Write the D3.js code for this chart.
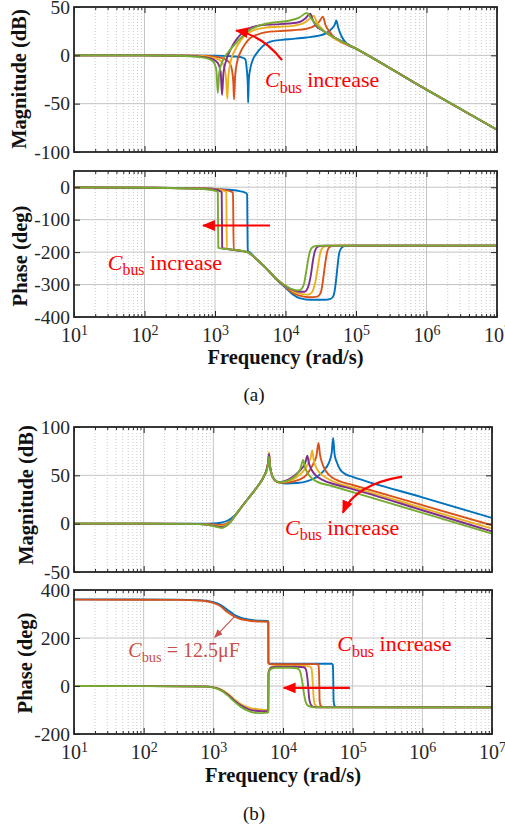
<!DOCTYPE html>
<html>
<head>
<meta charset="utf-8">
<script src="https://cdn.jsdelivr.net/npm/d3@7"></script>
<style>
  body { margin: 0; background: #fff; }
  svg { display: block; font-family: "Liberation Serif", "Times New Roman", serif; }
</style>
</head>
<body>
<svg width="505" height="830"></svg>
<script>
// frequencies are given as log10(rad/s); values in dB or deg
const freqDecades = [1, 2, 3, 4, 5, 6, 7];
const seriesColors = ['#0072BD', '#D95319', '#EDB120', '#7E2F8E', '#77AC30'];

const aMagTicks = [50, 0, -50, -100];
const aPhaseTicks = [0, -100, -200, -300, -400];
const bMagTicks = [100, 50, 0, -50];
const bPhaseTicks = [400, 200, 0, -200];

// (a) magnitude
const aMagBlue = [[1,0],[2,0],[3,-0.3],[3.2,-0.8],[3.3,-1.3],[3.38,-2.2],[3.43,-4],[3.45,-14],[3.465,-30],[3.47,-49],[3.48,-25],[3.5,-14],[3.54,-4],[3.59,2],[3.65,7.5],[3.72,12],[3.8,14.5],[3.95,16],[4.1,17],[4.3,18.5],[4.45,20],[4.58,23],[4.65,27],[4.70,32],[4.72,36],[4.75,28],[4.80,19],[4.87,12],[5,7],[6,-35.5],[7,-77]];
const aMagOrange = [[1,0],[2,0],[2.8,-0.5],[3.0,-1.5],[3.12,-3.5],[3.2,-7],[3.24,-15],[3.26,-28],[3.27,-45.5],[3.285,-22],[3.31,-8],[3.36,3],[3.43,12],[3.5,18],[3.6,21.5],[3.73,24],[3.9,25],[4.1,26],[4.3,27.5],[4.42,31],[4.48,35],[4.53,40],[4.57,31],[4.63,24],[4.68,19.3],[5,7],[6,-35.5],[7,-77]];
const aMagYellow = [[1,0],[2,0],[2.7,-0.5],[2.9,-1.5],[3.02,-3.5],[3.1,-7],[3.14,-15],[3.16,-28],[3.175,-45],[3.19,-22],[3.22,-7],[3.28,5],[3.36,15],[3.45,22],[3.55,26],[3.7,28.5],[3.9,29.5],[4.1,30.5],[4.25,33],[4.33,37],[4.40,41],[4.44,35],[4.48,30.5],[4.55,25],[5,7],[6,-35.5],[7,-77]];
const aMagPurple = [[1,0],[2,0],[2.6,-0.5],[2.85,-1.8],[2.97,-4],[3.04,-8],[3.08,-17],[3.10,-41],[3.12,-18],[3.16,-5],[3.22,6],[3.3,16],[3.4,24],[3.5,28.5],[3.65,31],[3.85,32],[4.05,33],[4.2,34.5],[4.28,38],[4.35,43],[4.39,36],[4.44,30],[4.52,26],[5,7],[6,-35.5],[7,-77]];
const aMagGreen = [[1,0],[2,0],[2.5,-0.5],[2.75,-1.5],[2.9,-3.5],[2.98,-7],[3.02,-16],[3.04,-39],[3.06,-18],[3.1,-7],[3.19,3.5],[3.31,13.5],[3.45,24],[3.59,29.8],[3.83,34],[4.06,36],[4.2,39.3],[4.3,43.8],[4.37,37.7],[4.47,29],[4.58,23.4],[5,7],[6,-35.5],[7,-77]];

// (a) phase
const aPhaseBlue = [[1,-0.5],[2,-1.5],[2.6,-3],[3,-5],[3.2,-8],[3.35,-12],[3.44,-18],[3.455,-22],[3.465,-196],[3.5,-202],[3.59,-222],[3.73,-251],[3.88,-286],[4.02,-314],[4.1,-330],[4.2,-342],[4.35,-347],[4.55,-347],[4.64,-344],[4.68,-335],[4.71,-300],[4.735,-250],[4.76,-205],[4.79,-188],[4.84,-181],[4.95,-180],[7,-180]];
const aPhaseOrange = [[1,-0.5],[2,-1.5],[2.6,-3],[3,-5],[3.15,-9],[3.23,-14],[3.255,-18],[3.265,-192],[3.35,-195],[3.46,-200],[3.59,-222],[3.73,-251],[3.88,-285],[4.02,-311],[4.1,-325],[4.2,-334],[4.35,-339],[4.45,-337],[4.5,-325],[4.53,-290],[4.56,-240],[4.59,-200],[4.62,-185],[4.67,-181],[4.8,-180],[7,-180]];
const aPhaseYellow = [[1,-0.5],[2,-1.5],[2.6,-3],[3,-6],[3.12,-11],[3.16,-16],[3.168,-190],[3.25,-193],[3.35,-196],[3.46,-200],[3.59,-222],[3.73,-251],[3.88,-284],[4.02,-308],[4.1,-320],[4.2,-328],[4.32,-331],[4.38,-322],[4.42,-295],[4.46,-245],[4.49,-205],[4.53,-186],[4.6,-180],[7,-180]];
const aPhasePurple = [[1,-0.5],[2,-1.5],[2.6,-3],[3,-7],[3.07,-12],[3.095,-16],[3.102,-188],[3.2,-191],[3.35,-196],[3.46,-200],[3.59,-222],[3.73,-251],[3.88,-284],[4.02,-307],[4.1,-316],[4.2,-322],[4.27,-322],[4.32,-308],[4.36,-270],[4.39,-225],[4.42,-195],[4.46,-183],[4.55,-180],[7,-180]];
const aPhaseGreen = [[1,-0.5],[2,-1.5],[2.5,-3],[2.9,-7],[3.02,-12],[3.04,-16],[3.047,-187],[3.15,-190],[3.3,-194],[3.46,-200],[3.59,-222],[3.73,-251],[3.88,-284],[4.02,-306],[4.1,-315],[4.18,-318],[4.22,-315],[4.26,-300],[4.29,-265],[4.32,-225],[4.35,-196],[4.39,-184],[4.47,-180],[7,-180]];

// (b) magnitude
const bMagBlue = [[1,0],[2,0],[2.8,0],[3.0,0.3],[3.1,1],[3.2,3],[3.3,8],[3.43,19.6],[3.55,30.5],[3.65,40],[3.72,48],[3.77,57],[3.79,64],[3.80,71],[3.81,62],[3.83,53],[3.87,46],[3.95,42.5],[4.05,41.5],[4.2,42],[4.35,44],[4.45,47],[4.55,52],[4.62,58],[4.67,65],[4.70,74],[4.72,88.6],[4.74,72],[4.77,64],[4.82,56],[4.9,51],[5,48.5],[6,27.2],[7,5.9]];
const bMagOrange = [[1,0],[2,0],[2.8,-0.2],[3.0,-0.8],[3.1,-1.2],[3.17,-0.5],[3.25,3],[3.32,9],[3.43,19.6],[3.55,30.5],[3.65,40],[3.72,48],[3.77,57],[3.79,65],[3.80,72],[3.81,62],[3.83,53],[3.87,46],[3.95,42.5],[4.05,42.5],[4.15,43.7],[4.25,46],[4.33,50],[4.39,56],[4.44,63],[4.48,70],[4.51,83.5],[4.53,72],[4.56,63],[4.62,54],[4.7,48],[4.82,43.7],[5,40],[6,19.1],[7,-1.7]];
const bMagYellow = [[1,0],[2,0],[2.8,-0.3],[3.0,-1.5],[3.1,-2.5],[3.16,-2],[3.25,2.5],[3.32,9],[3.43,19.6],[3.55,30.5],[3.65,40],[3.72,48],[3.77,58],[3.79,66],[3.80,74],[3.81,63],[3.83,53],[3.87,46],[3.95,42.5],[4.05,43.5],[4.15,46],[4.23,50],[4.3,55],[4.36,62],[4.40,69],[4.42,75.8],[4.44,66],[4.47,59],[4.51,54],[4.63,47],[4.8,41.4],[5,37.5],[6,16.2],[7,-5.2]];
const bMagPurple = [[1,0],[2,0],[2.8,-0.4],[3.0,-2],[3.1,-3.5],[3.16,-3],[3.25,2.2],[3.32,9],[3.43,19.6],[3.55,30.5],[3.65,40],[3.72,48],[3.77,57],[3.79,65],[3.80,72],[3.81,62],[3.83,53],[3.87,46],[3.93,43],[4.02,44],[4.12,47.5],[4.2,52],[4.27,57],[4.32,63],[4.35,70.3],[4.37,63],[4.41,55.8],[4.47,50],[4.56,45.5],[4.75,40.5],[5,35.8],[6,13.9],[7,-8]];
const bMagGreen = [[1,0],[2,0],[2.8,-0.5],[3.0,-2.5],[3.12,-4.5],[3.18,-2.5],[3.25,2],[3.32,9],[3.43,19.6],[3.55,30.5],[3.65,40],[3.72,48],[3.77,56],[3.79,63],[3.80,69],[3.81,61],[3.83,53],[3.87,46],[3.93,43],[4.05,44],[4.12,46.5],[4.2,51],[4.25,57],[4.29,66],[4.31,60],[4.34,54],[4.4,48],[4.48,43.7],[4.7,39],[5,32.6],[6,11.2],[7,-10.3]];

// (b) phase
const bPhaseBlue = [[1,361],[2.5,360],[2.8,357],[2.9,355],[3.0,349],[3.1,338],[3.2,318],[3.3,297],[3.4,284],[3.5,277],[3.6,273],[3.78,271],[3.789,268],[3.791,97],[3.82,93],[4.7,93],[4.715,88],[4.722,20],[4.726,-60],[4.74,-83],[4.78,-88],[7,-89]];
const bPhaseOrange = [[1,360],[2.5,359],[2.8,356],[2.9,353],[3.0,346],[3.1,333],[3.2,308],[3.3,290],[3.4,278],[3.5,273],[3.6,270],[3.78,268],[3.789,266],[3.791,95],[3.82,91],[4.49,91],[4.51,87],[4.52,20],[4.525,-60],[4.54,-82],[4.58,-88],[7,-89]];
const bPhaseYellow = [[1,0],[2,-0.5],[2.9,-2],[3.0,-5],[3.1,-13],[3.2,-30],[3.3,-55],[3.4,-76],[3.5,-89],[3.6,-96],[3.7,-99],[3.788,-100],[3.792,55],[3.81,73],[3.84,81],[3.9,84],[4.3,84],[4.38,82],[4.41,72],[4.425,20],[4.44,-50],[4.46,-78],[4.5,-87],[4.56,-89],[7,-89]];
const bPhasePurple = [[1,0],[2,-0.5],[2.9,-2],[3.0,-6],[3.1,-15],[3.2,-34],[3.3,-60],[3.4,-82],[3.5,-96],[3.6,-103],[3.7,-105],[3.788,-104],[3.792,52],[3.81,70],[3.84,77],[3.9,80],[4.2,80],[4.3,78],[4.33,68],[4.355,20],[4.375,-50],[4.4,-78],[4.44,-87],[4.5,-89],[7,-89]];
const bPhaseGreen = [[1,0],[2,-0.5],[2.9,-2.5],[3.0,-7],[3.1,-17],[3.2,-38],[3.3,-65],[3.4,-88],[3.5,-104],[3.6,-112],[3.7,-113],[3.788,-110],[3.792,50],[3.81,66],[3.84,73],[3.9,76],[4.1,76],[4.2,74],[4.24,65],[4.27,30],[4.3,-30],[4.33,-70],[4.37,-84],[4.45,-89],[7,-89]];

const svg = d3.select('svg');
const red = '#ff0000';
const darkRed = '#c9504a';
const serif = '"Liberation Serif", "Times New Roman", serif';

const defs = svg.append('defs');
const addHead = (id, color, w, h) => {
    defs.append('marker')
        .attr('id', id)
        .attr('viewBox', '0 0 12 10')
        .attr('refX', 11)
        .attr('refY', 5)
        .attr('markerUnits', 'userSpaceOnUse')
        .attr('markerWidth', w)
        .attr('markerHeight', h)
        .attr('orient', 'auto')
        .append('path')
        .attr('d', 'M0,0L12,5L0,10z')
        .attr('fill', color);
}
addHead('headRed', red, 13, 11);
addHead('headDark', darkRed, 9, 7);

const panels = [
    { x0: 74, x1: 497, y0: 7, y1: 152, yDomain: [-100, 50], yTicks: aMagTicks,
      series: [aMagBlue, aMagOrange, aMagYellow, aMagPurple, aMagGreen],
      yLabel: 'Magnitude (dB)', ylx: 26, yly: 79, xLabels: false },
    { x0: 74, x1: 497, y0: 171, y1: 317, yDomain: [-400, 50], yTicks: aPhaseTicks,
      series: [aPhaseBlue, aPhaseOrange, aPhaseYellow, aPhasePurple, aPhaseGreen],
      yLabel: 'Phase (deg)', ylx: 27, yly: 256, xLabels: true, xly: 364, tag: '(a)', tagY: 401 },
    { x0: 74, x1: 492, y0: 427, y1: 572, yDomain: [-50, 100], yTicks: bMagTicks,
      series: [bMagBlue, bMagOrange, bMagYellow, bMagPurple, bMagGreen],
      yLabel: 'Magnitude (dB)', ylx: 33, yly: 495, xLabels: false },
    { x0: 74, x1: 492, y0: 590, y1: 734, yDomain: [-200, 400], yTicks: bPhaseTicks,
      series: [bPhaseBlue, bPhaseOrange, bPhaseYellow, bPhasePurple, bPhaseGreen],
      yLabel: 'Phase (deg)', ylx: 32, yly: 663, xLabels: true, xly: 782, tag: '(b)', tagY: 820 }
];

const cbusText = (g, x, y, color, size, rest) => {
    const t = g.append('text')
        .attr('x', x)
        .attr('y', y)
        .attr('fill', color)
        .attr('font-family', serif)
        .attr('font-size', size);
    t.append('tspan').attr('font-style', 'italic').text('C');
    t.append('tspan').attr('font-size', size * 0.72).attr('dy', size * 0.25).text('bus');
    t.append('tspan').attr('dy', -size * 0.25).text(rest);
}

const drawPanel = (p, idx) => {
    const xScale = d3.scaleLog().domain([1e1, 1e7]).range([p.x0, p.x1]);
    const yScale = d3.scaleLinear().domain(p.yDomain).range([p.y1, p.y0]);
    const fx = d => xScale(Math.pow(10, d));
    const g = svg.append('g');

    const minors = [];
    for (let d = 1; d < 7; d++) {
        for (let k = 2; k < 10; k++) minors.push(k * Math.pow(10, d));
    }
    const majors = freqDecades.map(d => Math.pow(10, d));

    // grid
    g.append('g').selectAll('line').data(minors).join('line')
        .attr('x1', d => xScale(d)).attr('x2', d => xScale(d))
        .attr('y1', p.y0).attr('y2', p.y1)
        .attr('stroke', '#bdbdbd').attr('stroke-width', 0.8)
        .attr('stroke-dasharray', '1,2');
    g.append('g').selectAll('line').data(majors).join('line')
        .attr('x1', d => xScale(d)).attr('x2', d => xScale(d))
        .attr('y1', p.y0).attr('y2', p.y1)
        .attr('stroke', '#c4c4c4').attr('stroke-width', 1);
    g.append('g').selectAll('line').data(p.yTicks).join('line')
        .attr('x1', p.x0).attr('x2', p.x1)
        .attr('y1', d => yScale(d)).attr('y2', d => yScale(d))
        .attr('stroke', '#c4c4c4').attr('stroke-width', 1);

    // curves
    const clipId = 'clip' + idx;
    defs.append('clipPath').attr('id', clipId)
        .append('rect')
        .attr('x', p.x0).attr('y', p.y0)
        .attr('width', p.x1 - p.x0).attr('height', p.y1 - p.y0);
    const line = d3.line()
        .x(d => fx(d[0]))
        .y(d => yScale(d[1]))
        .curve(d3.curveMonotoneX);
    g.append('g').attr('clip-path', `url(#${clipId})`)
        .selectAll('path').data(p.series).join('path')
        .attr('d', line)
        .attr('fill', 'none')
        .attr('stroke', (d, i) => seriesColors[i])
        .attr('stroke-width', 1.9)
        .attr('stroke-linejoin', 'round');

    // inner ticks on all sides
    const tickAxes = [
        [d3.axisBottom(xScale).tickValues(majors).tickSize(-6), `translate(0,${p.y1})`],
        [d3.axisTop(xScale).tickValues(majors).tickSize(-6), `translate(0,${p.y0})`],
        [d3.axisBottom(xScale).tickValues(minors).tickSize(-3), `translate(0,${p.y1})`],
        [d3.axisTop(xScale).tickValues(minors).tickSize(-3), `translate(0,${p.y0})`],
        [d3.axisLeft(yScale).tickValues(p.yTicks).tickSize(-6), `translate(${p.x0},0)`],
        [d3.axisRight(yScale).tickValues(p.yTicks).tickSize(-6), `translate(${p.x1},0)`]
    ];
    tickAxes.forEach(([ax, tr]) => {
        const a = g.append('g').attr('transform', tr).call(ax.tickFormat(''));
        a.select('.domain').remove();
        a.selectAll('line').attr('stroke', '#262626');
    });

    // frame
    g.append('rect')
        .attr('x', p.x0).attr('y', p.y0)
        .attr('width', p.x1 - p.x0).attr('height', p.y1 - p.y0)
        .attr('fill', 'none').attr('stroke', '#262626').attr('stroke-width', 1.8);

    // y tick labels
    const yAxis = g.append('g')
        .attr('transform', `translate(${p.x0},0)`)
        .attr('font-family', serif)
        .call(d3.axisLeft(yScale).tickValues(p.yTicks).tickSize(0).tickPadding(4).tickFormat(d => String(d)));
    yAxis.attr('font-family', serif).attr('font-size', 19.5);
    yAxis.select('.domain').remove();
    yAxis.selectAll('text').attr('fill', '#262626');

    // x tick labels as 10^n
    if (p.xLabels) {
        const xAxis = g.append('g')
            .attr('transform', `translate(0,${p.y1})`)
            .call(d3.axisBottom(xScale).tickValues(majors).tickSize(0).tickPadding(11).tickFormat(''));
        xAxis.attr('font-family', serif).attr('font-size', 20);
        xAxis.select('.domain').remove();
        xAxis.selectAll('.tick text').each(function (d) {
            const t = d3.select(this).attr('fill', '#262626');
            t.append('tspan').text('10');
            t.append('tspan').attr('font-size', 14).attr('dy', '-0.5em')
                .text(Math.round(Math.log10(d)));
        });

        g.append('text')
            .attr('x', (p.x0 + p.x1) / 2)
            .attr('y', p.xly)
            .attr('text-anchor', 'middle')
            .attr('font-family', serif)
            .attr('font-size', 20.5)
            .attr('font-weight', 'bold')
            .attr('fill', '#111')
            .text('Frequency (rad/s)');

        g.append('text')
            .attr('x', 254)
            .attr('y', p.tagY)
            .attr('text-anchor', 'middle')
            .attr('font-family', serif)
            .attr('font-size', 19)
            .attr('fill', '#111')
            .text(p.tag);
    }

    g.append('text')
        .attr('transform', `translate(${p.ylx},${p.yly}) rotate(-90)`)
        .attr('text-anchor', 'middle')
        .attr('font-family', serif)
        .attr('font-size', 20.5)
        .attr('font-weight', 'bold')
        .attr('fill', '#111')
        .text(p.yLabel);

    return { g, fx, yScale };
}

const drawn = panels.map(drawPanel);

// annotations, placed in data units of each panel
const curvedArrow = (ctx, pts, color, width, head) => {
    const [a, c, b] = pts.map(([lx, v]) => [ctx.fx(lx), ctx.yScale(v)]);
    ctx.g.append('path')
        .attr('d', `M${a[0]},${a[1]}Q${c[0]},${c[1]} ${b[0]},${b[1]}`)
        .attr('fill', 'none')
        .attr('stroke', color)
        .attr('stroke-width', width)
        .attr('marker-end', `url(#${head})`);
}

// (a) magnitude
curvedArrow(drawn[0], [[3.95, -5], [3.68, 20.5], [3.30, 25.7]], red, 2.2, 'headRed');
cbusText(drawn[0].g, drawn[0].fx(3.71), drawn[0].yScale(-33), red, 22, ' increase');

// (a) phase
curvedArrow(drawn[1], [[3.78, -118], [3.3, -118], [2.83, -118]], red, 2.2, 'headRed');
cbusText(drawn[1].g, drawn[1].fx(1.48), drawn[1].yScale(-255), red, 22, ' increase');

// (b) magnitude
curvedArrow(drawn[2], [[5.71, 48.6], [5.03, 40.3], [4.86, 11.4]], red, 2.2, 'headRed');
cbusText(drawn[2].g, drawn[2].fx(4.03), drawn[2].yScale(-11.4), red, 22, ' increase');

// (b) phase
curvedArrow(drawn[3], [[4.96, -8], [4.5, -8], [4.01, -8]], red, 2.2, 'headRed');
cbusText(drawn[3].g, drawn[3].fx(4.78), drawn[3].yScale(145), red, 22, ' increase');
curvedArrow(drawn[3], [[3.31, 291], [3.17, 248], [3.02, 203]], darkRed, 1.1, 'headDark');
cbusText(drawn[3].g, drawn[3].fx(1.78), drawn[3].yScale(120), darkRed, 20, ' = 12.5\u03bcF');
</script>
</body>
</html>
